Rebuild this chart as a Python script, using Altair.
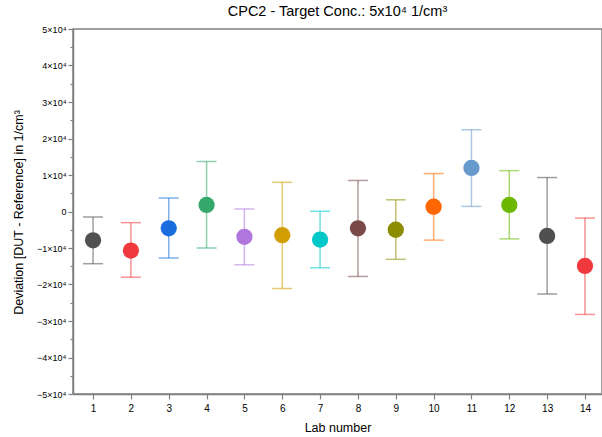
import altair as alt
import pandas as pd

labs = list(range(1, 15))
means = [-7900, -10700, -4600, 1800, -6950, -6500, -7700, -4600, -5000, 1300, 11950, 1800, -6700, -14900]
upper = [-1500, -3050, 3700, 13700, 700, 8000, 100, 8500, 3200, 10400, 22400, 11200, 9300, -1800]
lower = [-14300, -18000, -12750, -10000, -14600, -21100, -15400, -17800, -13100, -7850, 1400, -7500, -22600, -28200]
colors = ["#505050", "#f0393f", "#1a6ddd", "#35a96b", "#b176de", "#d19e00", "#00c8c8",
          "#7a4848", "#8c8c00", "#ff6600", "#6699cc", "#6cb800", "#505050", "#f0393f"]
major_y = [-50000, -40000, -30000, -20000, -10000, 0, 10000, 20000, 30000, 40000, 50000]
minor_y = [-45000, -35000, -25000, -15000, -5000, 5000, 15000, 25000, 35000, 45000]

df = pd.DataFrame({
    "lab": labs,
    "name": [str(l) for l in labs],
    "mean": means,
    "lo": lower,
    "hi": upper,
})

FONT = "Liberation Sans"
AX = "#808080"

xscale = alt.Scale(domain=[0.47, 14.45], nice=False, zero=False)
yscale = alt.Scale(domain=[-50000, 50000], nice=False, zero=False)
cscale = alt.Scale(domain=[str(l) for l in labs], range=colors)

xaxis = alt.Axis(values=labs, format="d", title="Lab number", grid=False,
                 tickSize=5, labelPadding=4, labelFontSize=10, labelFont=FONT,
                 labelColor="#000000", titleFont=FONT, titleFontSize=12.5,
                 titleFontWeight="normal", titleColor="#000000",
                 titleBaseline="alphabetic", titleY=37)

yaxis = alt.Axis(values=major_y, grid=False, tickSize=5, labelPadding=2,
                 labelFontSize=9, labelFont=FONT, labelColor="#000000",
                 labelExpr="datum.value == 0 ? '0' : (datum.value < 0 ? '\u2212' : '') + abs(datum.value)/10000 + '\u00d710\u2074'",
                 title="Deviation [DUT - Reference] in 1/cm\u00b3",
                 titleFont=FONT, titleFontSize=12.5, titleFontWeight="normal",
                 titleColor="#000000", titleAngle=-90, titleX=-61, titleY=183,
                 titleAlign="center", titleBaseline="top")

minor_axis = alt.Axis(values=minor_y, orient="left", grid=False, tickSize=3,
                      labels=False, domain=False, title=None)

base = alt.Chart(df)

bars = base.mark_rule(strokeWidth=1.5, opacity=0.55).encode(
    x=alt.X("lab:Q", scale=xscale, axis=xaxis),
    y=alt.Y("lo:Q", scale=yscale, axis=yaxis),
    y2="hi:Q",
    color=alt.Color("name:N", scale=cscale, legend=None),
)

cap_hi = base.mark_tick(thickness=1.5, size=20, orient="horizontal", opacity=0.55).encode(
    x=alt.X("lab:Q", scale=xscale),
    y=alt.Y("hi:Q", scale=yscale, axis=None),
    color=alt.Color("name:N", scale=cscale, legend=None),
)
cap_lo = base.mark_tick(thickness=1.5, size=20, orient="horizontal", opacity=0.55).encode(
    x=alt.X("lab:Q", scale=xscale),
    y=alt.Y("lo:Q", scale=yscale, axis=None),
    color=alt.Color("name:N", scale=cscale, legend=None),
)

pts = base.mark_circle(size=265, opacity=1).encode(
    x=alt.X("lab:Q", scale=xscale),
    y=alt.Y("mean:Q", scale=yscale, axis=minor_axis),
    color=alt.Color("name:N", scale=cscale, legend=None),
)

chart = alt.layer(bars, cap_hi, cap_lo, pts).resolve_axis(y="independent").properties(
    width=529,
    height=365,
    autosize=alt.AutoSizeParams(type="none"),
    padding={"left": 73, "top": 29, "right": 0, "bottom": 43},
    title=alt.TitleParams("CPC2 - Target Conc.: 5x10\u2074 1/cm\u00b3", font=FONT,
                          fontSize=14.5, fontWeight="normal", color="#000000",
                          anchor="middle", offset=6),
).configure_view(
    stroke=AX, strokeWidth=1.5
).configure_axis(
    domainColor=AX, domainWidth=1.5, tickColor=AX, tickWidth=1.2
)

chart.save("out.html", embed_options={"renderer": "svg", "actions": False})
